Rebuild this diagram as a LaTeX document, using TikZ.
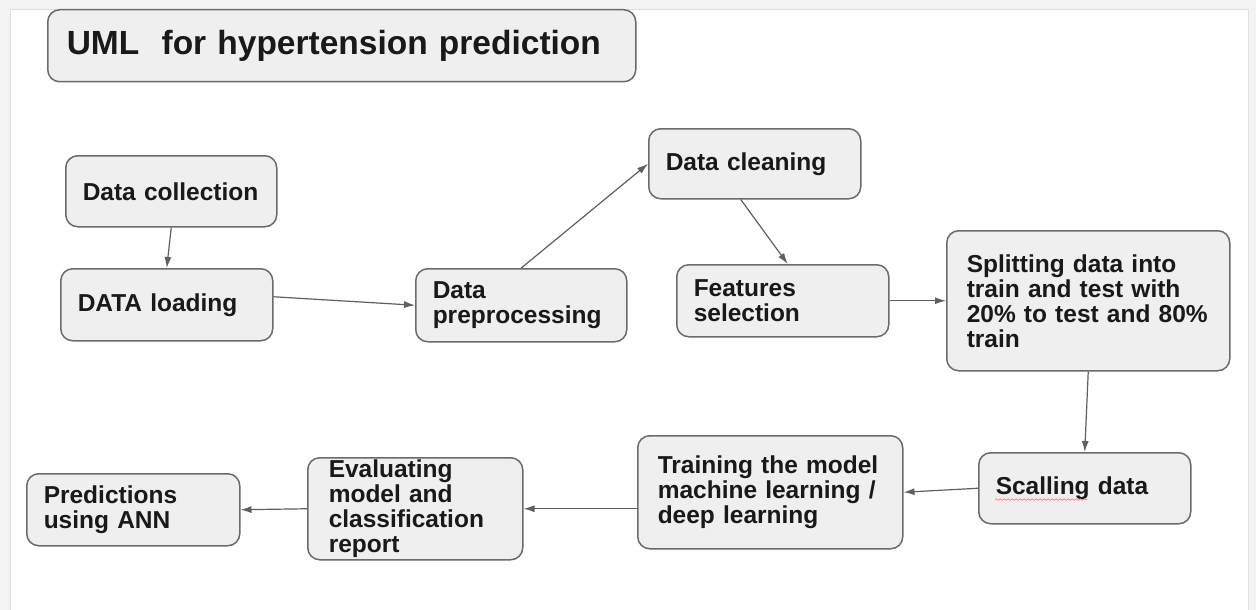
\documentclass[tikz,border=0pt]{standalone}
\usepackage{fontspec}
\setmainfont{Liberation Sans}
\usepackage{xcolor}
\usepackage{tikz}
\usetikzlibrary{positioning, arrows.meta, calc, decorations.pathmorphing}

\definecolor{boxfill}{HTML}{EFEFEF}
\definecolor{boxline}{HTML}{6B6B6B}
\definecolor{arrowc}{HTML}{5F5F5F}
\definecolor{pagebg}{HTML}{F3F3F3}

\begin{document}
\begin{tikzpicture}[x=1pt, y=-1pt, >={Latex[length=11pt,width=7pt]},
  block/.style={draw=boxline, fill=boxfill, line width=1.5pt, rounded corners=12pt,
    anchor=north west, inner xsep=17pt, inner ysep=0pt, align=left, text=black!90,
    font=\fontsize{24.5}{25}\selectfont\bfseries},
  heading/.style={block, inner xsep=19pt, font=\fontsize{33.5}{36}\selectfont\bfseries},
  link/.style={->, draw=arrowc, line width=1.2pt}]
  \useasboundingbox (0,0) rectangle (1256,610);
  \fill[pagebg] (0,0) rectangle (1256,610);
  \fill[white] (10,9) rectangle (1248,610);
  \draw[gray!25] (10,610) -- (10,9) -- (1248,9) -- (1248,610);

  \node[heading, minimum width=588pt, minimum height=72pt, text width=550pt] (uml) at (47,9) {UML\ \ for hypertension prediction};

  \node[block, minimum width=211pt, minimum height=71pt, text width=177pt] (coll) at (65,155) {Data collection};
  \node[block, minimum width=212pt, minimum height=72pt, text width=178pt] (load) at (60,268) {DATA loading};
  \node[block, minimum width=211pt, minimum height=73pt, text width=177pt] (prep) at (415,268) {Data\\ preprocessing};
  \node[block, minimum width=212pt, minimum height=70pt, text width=178pt] (clean) at (648,128) {Data cleaning};
  \node[block, minimum width=212pt, minimum height=72pt, text width=178pt] (feat) at (676,264) {Features\\ selection};
  \node[block, inner xsep=20pt, minimum width=283pt, minimum height=140pt, text width=243pt] (split) at (946,230) {Splitting data into\\ train and test with\\ 20\% to test and 80\%\\ train};
  \node[block, minimum width=212pt, minimum height=71pt, text width=178pt] (scale) at (978,452) {Scalling data};
  \node[block, inner xsep=20pt, minimum width=265pt, minimum height=113pt, text width=225pt] (train) at (637,435) {Training the model\\ machine learning /\\ deep learning};
  \node[block, inner xsep=21pt, minimum width=215pt, minimum height=102pt, text width=173pt] (eval) at (307,457) {Evaluating\\ model and\\ classification\\ report};
  \node[block, minimum width=213pt, minimum height=72pt, text width=179pt] (pred) at (26,473) {Predictions\\ using ANN};

  % spell-check mark under Scalling
  \draw[red!55, line width=0.6pt, decorate, decoration={snake, amplitude=0.8pt, segment length=4pt}]
    ($(scale.base west)+(17,5)$) -- ++(92,0);

  \draw[link] (coll.south) -- (load.north);
  \draw[link] ([yshift=8pt]load.east) -- (prep.west);
  \draw[link] (prep.north) -- (clean.west);
  \draw[link] ([xshift=-14pt]clean.south) -- ([xshift=5pt]feat.north);
  \draw[link] (feat.east) -- (split.west);
  \draw[link] (split.south) -- (scale.north);
  \draw[link] (scale.west) -- (train.east);
  \draw[link] (train.west |- eval.east) -- (eval.east);
  \draw[link] (eval.west) -- (pred.east);
\end{tikzpicture}
\end{document}
